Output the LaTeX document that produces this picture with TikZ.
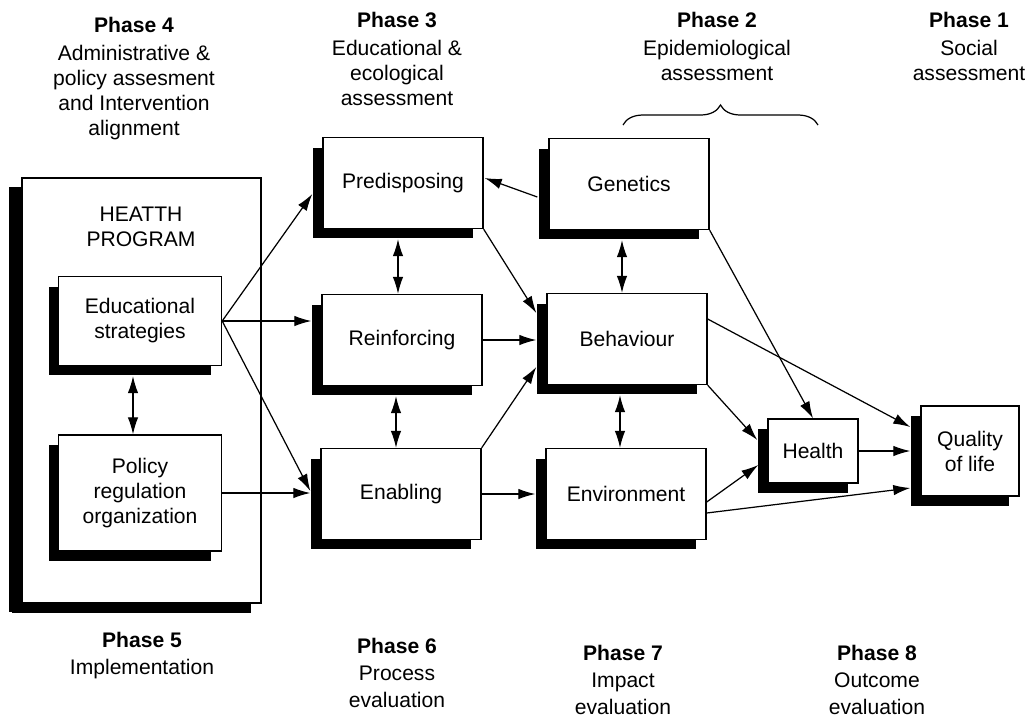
\documentclass[tikz,border=0pt]{standalone}
\usepackage{fontspec}
\setmainfont{Liberation Sans}
\usetikzlibrary{arrows.meta,calc,shadows,decorations.pathreplacing}

\begin{document}
\begin{tikzpicture}[x=0.02cm, y=-0.02cm, every node/.style={font=\fontsize{12}{14.2}\selectfont}]
  \tikzset{blk/.style={draw=black, fill=white, line width=0.8pt, align=center, inner sep=2pt,
                       minimum width=3.2cm, minimum height=1.82cm,
                       general shadow={fill=black, shadow xshift=-0.2cm, shadow yshift=-0.2cm}},
           phs/.style={anchor=north, inner sep=0pt, align=center},
           lnk/.style={-{Latex[length=3.4mm, width=2.1mm]}, line width=0.7pt},
           lnk2/.style={{Latex[length=3.4mm, width=2.1mm]}-{Latex[length=3.4mm, width=2.1mm]}, line width=0.7pt}}
  \useasboundingbox[fill=white] (0,0) rectangle (1036,718);
  % phase labels
  \node[phs] (ph4) at (134,17) {\textbf{Phase 4}\\[1.7pt]Administrative \&\\policy assesment\\and Intervention\\alignment};
  \node[phs] (ph3) at (397,12) {\textbf{Phase 3}\\[1.7pt]Educational \&\\ecological\\assessment};
  \node[phs] (ph2) at (717,12) {\textbf{Phase 2}\\[1.7pt]Epidemiological\\assessment};
  \node[phs] (ph1) at (969,12) {\textbf{Phase 1}\\[1.7pt]Social\\assessment};
  \node[phs, font=\fontsize{12}{15.2}\selectfont] (ph5) at (142,632) {\textbf{Phase 5}\\Implementation};
  \node[phs, font=\fontsize{12}{15.2}\selectfont] (ph6) at (397,638) {\textbf{Phase 6}\\Process\\evaluation};
  \node[phs, font=\fontsize{12}{15.2}\selectfont] (ph7) at (623,645) {\textbf{Phase 7}\\Impact\\evaluation};
  \node[phs, font=\fontsize{12}{15.2}\selectfont] (ph8) at (877,645) {\textbf{Phase 8}\\Outcome\\evaluation};
  % brace over phase 2
  \coordinate (bl) at (623,125);
  \coordinate (br) at (818,125);
  \draw[decorate, decoration={brace, amplitude=0.4cm}, line width=0.7pt] (bl) -- (br);
  % health program
  \node[blk, minimum width=4.78cm, minimum height=8.5cm,
        general shadow={fill=black, shadow xshift=-0.27cm, shadow yshift=-0.18cm}] (prog) at (141.5,390.5) {};
  \node[phs] (ptitle) at (141,207) {HEATTH\\PROGRAM};
  \node[blk, minimum width=3.26cm, minimum height=1.78cm] (edu) at (140,321) {Educational\\strategies};
  \node[blk, minimum width=3.26cm, minimum height=2.32cm] (pol) at (140,493) {Policy\\regulation\\organization};
  % factors
  \node[blk] (pre) at (403,183) {Predisposing};
  \node[blk] (rei) at (402,340) {Reinforcing};
  \node[blk] (ena) at (401,494) {Enabling};
  \node[blk] (gen) at (629,184) {Genetics};
  \node[blk] (beh) at (627,339) {Behaviour};
  \node[blk] (env) at (626,494) {Environment};
  \node[blk, minimum width=1.8cm, minimum height=1.28cm] (hea) at (813,451) {Health};
  \node[blk, minimum width=1.96cm, minimum height=1.8cm] (qol) at (970,451) {Quality\\of life};
  % links
  \draw[lnk] (edu.east) -- ($(pre.west)+(-10,11)$);
  \draw[lnk] (edu.east) -- ($(rei.west)+(-10,-19)$);
  \draw[lnk] (edu.east) -- ($(ena.west)+(-10,-3)$);
  \draw[lnk] (pol.east) -- ($(ena.west)+(-10,-1)$);
  \draw[lnk2] ($(edu.south)+(-7,10)$) -- ($(pol.north)+(-7,0)$);
  \draw[lnk2] ($(pre.south)+(-5,10)$) -- ($(rei.north)+(-4,0)$);
  \draw[lnk2] ($(rei.south)+(-6,10)$) -- ($(ena.north)+(-5,0)$);
  \draw[lnk2] ($(gen.south)+(-7,10)$) -- ($(beh.north)+(-5,0)$);
  \draw[lnk2] ($(beh.south)+(-7,10)$) -- ($(env.north)+(-6,0)$);
  \draw[lnk] ($(gen.west)+(-11,13)$) -- ($(pre.east)+(1,-5)$);
  \draw[lnk] (pre.south east) -- ($(beh.west)+(-10,-26)$);
  \draw[lnk] (rei.east) -- ($(beh.west)+(-10,1)$);
  \draw[lnk] (ena.north east) -- ($(beh.west)+(-10,28)$);
  \draw[lnk] (ena.east) -- ($(env.west)+(-10,0)$);
  \draw[lnk] (gen.south east) -- (hea.north);
  \draw[lnk] (beh.south east) -- ($(hea.west)+(-10,-11)$);
  \draw[lnk] ($(beh.east)+(0,-20)$) -- ($(qol.west)+(-10,-24)$);
  \draw[lnk] ($(env.east)+(0,8)$) -- ($(hea.west)+(-9,14)$);
  \draw[lnk] ($(env.east)+(0,19)$) -- ($(qol.west)+(-10,37)$);
  \draw[lnk] (hea.east) -- ($(qol.west)+(-10,0)$);
\end{tikzpicture}
\end{document}
